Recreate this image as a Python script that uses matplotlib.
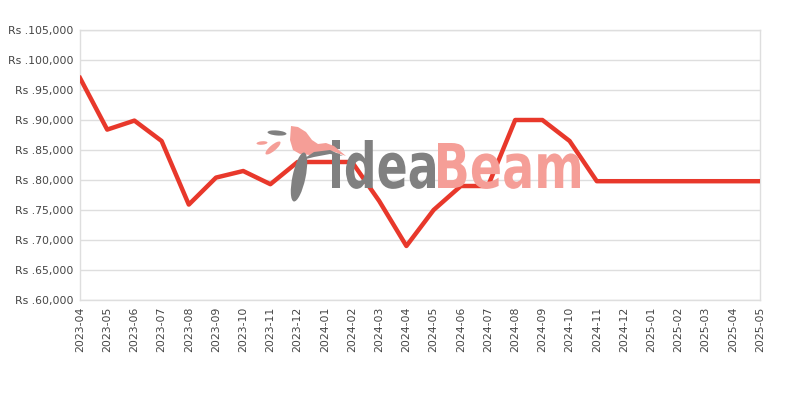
import matplotlib
matplotlib.use("Agg")
import matplotlib.pyplot as plt
import matplotlib.patches as mpatches
from matplotlib.font_manager import FontProperties
from matplotlib.textpath import TextPath
from matplotlib.transforms import Affine2D
from matplotlib.ticker import FuncFormatter, MultipleLocator

months = ["2023-04", "2023-05", "2023-06", "2023-07", "2023-08", "2023-09",
          "2023-10", "2023-11", "2023-12", "2024-01", "2024-02", "2024-03",
          "2024-04", "2024-05", "2024-06", "2024-07", "2024-08", "2024-09",
          "2024-10", "2024-11", "2024-12", "2025-01", "2025-02", "2025-03",
          "2025-04", "2025-05"]
prices = [97000, 88400, 89900, 86500, 75900, 80400,
          81500, 79300, 83000, 83000, 83000, 76500,
          69000, 75000, 79000, 79000, 90000, 90000,
          86500, 79800, 79800, 79800, 79800, 79800,
          79800, 79800]

LINE = "#e8382b"
GRID = "#dedede"
TXT = "#444444"
GRAY_WM = "#808080"
SALMON_WM = "#f59e97"

H = 400  # figure height in px, watermark is placed in image pixels


def px(x, y):
    return (x, H - y)


def word(fig, s, x0, x1, base, top, color):
    # stretched text path for the watermark
    tp = TextPath((0, 0), s, size=1, prop=FontProperties(family="DejaVu Sans", weight="semibold"))
    ext = tp.get_extents()
    sx = (x1 - x0) / ext.width
    sy = (base - top) / ext.y1
    tr = Affine2D().translate(-ext.x0, 0).scale(sx, sy).translate(x0, H - base)
    fig.patches.append(mpatches.PathPatch(tp, transform=tr, color=color, lw=0, zorder=0))


fig = plt.figure(figsize=(8, 4), dpi=100)
ax = fig.add_axes([0.1, 0.25, 0.85, 0.675])
ax.patch.set_alpha(0)

# watermark
word(fig, "idea", 332, 435, 188, 140, GRAY_WM)
word(fig, "Beam", 438, 580, 188, 143, SALMON_WM)
bird = [(291, 126), (298, 127), (306, 132), (312, 140), (318, 144), (326, 143),
        (334, 146), (346, 156), (332, 151), (322, 154), (310, 155), (300, 154),
        (293, 150), (290, 140)]
fig.patches.append(mpatches.Polygon([px(*p) for p in bird], closed=True, color=SALMON_WM, lw=0, zorder=0))
arc = [(302, 160), (314, 152), (330, 150), (343, 156), (330, 154), (314, 157)]
fig.patches.append(mpatches.Polygon([px(*p) for p in arc], closed=True, color=GRAY_WM, lw=0, zorder=0))
fig.patches.append(mpatches.Ellipse(px(299, 177), 13, 50, angle=-12, color=GRAY_WM, lw=0, zorder=0,
                                    transform=None))
fig.patches.append(mpatches.Ellipse(px(277, 133), 19, 5, angle=-5, color=GRAY_WM, lw=0, zorder=0,
                                    transform=None))
fig.patches.append(mpatches.Ellipse(px(273, 148), 6, 19, angle=-50, color=SALMON_WM, lw=0, zorder=0,
                                    transform=None))
fig.patches.append(mpatches.Ellipse(px(262, 143), 11, 3.5, angle=5, color=SALMON_WM, lw=0, zorder=0,
                                    transform=None))

ax.plot(range(len(months)), prices, color=LINE, linewidth=3.2, zorder=3)

ax.set_xlim(0, len(months) - 1)
ax.set_ylim(60000, 105000)
ax.yaxis.set_major_locator(MultipleLocator(5000))
ax.yaxis.set_major_formatter(FuncFormatter(lambda v, p: "Rs .{:,.0f}".format(v)))
ax.set_xticks(range(len(months)))
ax.set_xticklabels(months, rotation=90)
ax.tick_params(length=0, labelsize=7.8, colors=TXT, pad=5)
ax.grid(axis="y", color=GRID, linewidth=1)
ax.set_axisbelow(True)
for s in ax.spines.values():
    s.set_color(GRID)
    s.set_linewidth(1)

fig.savefig("out.png", dpi=100)
